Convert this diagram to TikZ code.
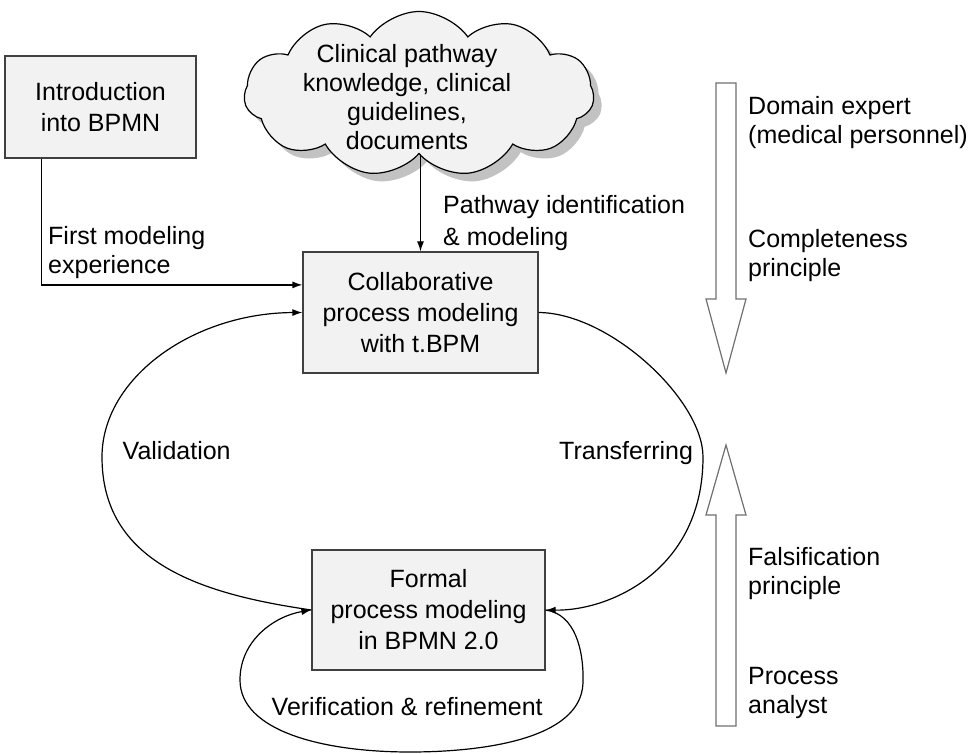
\documentclass[tikz,border=0pt]{standalone}
\usepackage{fontspec}
\setmainfont{Liberation Sans}
\usetikzlibrary{arrows.meta,shapes.symbols,shadows}
\definecolor{boxfill}{HTML}{F2F2F2}
\definecolor{boxline}{HTML}{404040}
\definecolor{arrowline}{HTML}{707070}
\definecolor{shadowgray}{HTML}{858585}
\begin{document}
\begin{tikzpicture}[x=1pt,y=-1pt,
  every node/.style={font=\fontsize{25pt}{29pt}\selectfont, inner sep=0pt},
  box/.style={draw=boxline, fill=boxfill, line width=1.2pt, align=center,
    font=\fontsize{25pt}{31pt}\selectfont},
  lbl/.style={align=left, anchor=north west},
  conn/.style={line width=1.2pt, draw=black},
  arr/.style={-{Latex[length=10pt,width=7pt]}},
  bigarrow/.style={draw=arrowline, fill=white, line width=1.2pt},
  cloudy/.style={cloud, cloud puffs=11, cloud puff arc=110, aspect=2.1,
    minimum width=350pt, minimum height=165pt, draw=black, line width=1.2pt,
    fill=boxfill, drop shadow={shadow xshift=8pt, shadow yshift=-8pt, fill=shadowgray, draw=none}}]
\useasboundingbox (0,0) rectangle (972,754);

% nodes
\node[box, minimum width=191pt, minimum height=102pt] (intro) at (100.5,107) {Introduction\\into BPMN};
\node[cloudy] (cloud) at (419,94) {};
\node[align=center] (cloudtxt) at (407,97) {Clinical pathway\\knowledge, clinical\\guidelines,\\documents};
\node[box, minimum width=235pt, minimum height=121pt] (collab) at (420.5,312.5) {Collaborative\\process modeling\\with t.BPM};
\node[box, minimum width=233pt, minimum height=120pt] (formal) at (428.5,610) {Formal\\process modeling\\in BPMN 2.0};

% connectors
\draw[conn,arr] (collab.north |- cloud.south) -- (collab.north);
\draw[conn,arr] ([xshift=37pt]intro.south west) |- ([yshift=-33.5pt]collab.north west);
\draw[conn,arr] (formal.west) .. controls (200,594) and (102,562) .. (102,457)
  .. controls (102,378) and (193,313) .. (collab.west);
\draw[conn,arr] (collab.east) .. controls (610,313) and (703,400) .. (703,457)
  .. controls (703,570) and (610,611) .. (formal.east);
\draw[conn,arr] (formal.east) .. controls (575,614) and (584,650) .. (583,683)
  .. controls (581,740) and (480,752) .. (410,752)
  .. controls (320,752) and (240,730) .. (240,680)
  .. controls (240,640) and (275,616) .. (formal.west);

% block arrows
\draw[bigarrow] (716,83) -- (736,83) -- (736,299) -- (746,299) -- (726,373) -- (706,299) -- (716,299) -- cycle;
\draw[bigarrow] (716,726) -- (736,726) -- (736,515) -- (746,515) -- (726,445) -- (706,515) -- (716,515) -- cycle;

% labels
\node[lbl, font=\fontsize{25pt}{32pt}\selectfont] (pathlbl) at (443,195) {Pathway identification\\\& modeling};
\node[lbl] (firstlbl) at (48,226) {First modeling\\experience};
\node[anchor=base west] (vallbl) at (122.5,459) {Validation};
\node[anchor=base west] (translbl) at (559,459) {Transferring};
\node[anchor=base west] (verlbl) at (271.5,715) {Verification \& refinement};
\node[lbl] (domlbl) at (748,96) {Domain expert\\(medical personnel)};
\node[lbl] (complbl) at (748,229) {Completeness\\principle};
\node[lbl] (falslbl) at (748,547) {Falsification\\principle};
\node[lbl] (proclbl) at (748,667) {Process\\analyst};
\end{tikzpicture}
\end{document}
